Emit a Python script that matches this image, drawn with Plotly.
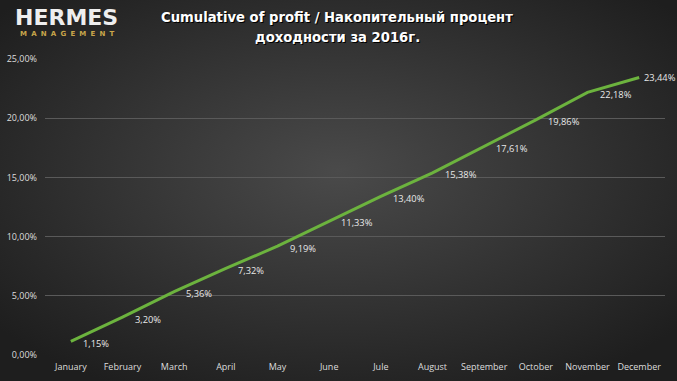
import base64
import plotly.graph_objects as go

months = ["January", "February", "March", "April", "May", "June",
          "Jule", "August", "September", "October", "November", "December"]
values = [1.15, 3.20, 5.36, 7.32, 9.19, 11.33, 13.40, 15.38, 17.61, 19.86, 22.18, 23.44]
labels = [f"{v:.2f}%".replace(".", ",") for v in values]
tick_vals = [0, 5, 10, 15, 20, 25]
tick_text = [f"{v:.2f}%".replace(".", ",") for v in tick_vals]

W, H = 677, 381
ML, MR, MT, MB = 45, 12, 59, 26
PW, PH = W - ML - MR, H - MT - MB

def px(x):
    return (x - ML) / PW

def py(y):
    return 1 - (y - MT) / PH

svg = """<svg xmlns='http://www.w3.org/2000/svg' width='677' height='381'>
<defs><radialGradient id='g' cx='50%' cy='45%' r='65%'>
<stop offset='0%' stop-color='#4a4a4a'/><stop offset='100%' stop-color='#1e1e1e'/>
</radialGradient></defs><rect width='677' height='381' fill='url(#g)'/></svg>"""
bg = "data:image/svg+xml;base64," + base64.b64encode(svg.encode()).decode()

fig = go.Figure()
fig.add_trace(go.Scatter(
    x=months, y=values, mode="lines",
    line=dict(color="#6cb33e", width=3),
    hoverinfo="skip",
))

label_font = dict(family="Open Sans, DejaVu Sans", size=9.3, color="#e8e8e8")
annotations = [
    dict(text=t, x=m, y=v, xref="x", yref="y", xanchor="left", yanchor="middle",
         xshift=(3 if i == len(months) - 1 else 10), yshift=(0 if i == len(months) - 1 else -2),
         showarrow=False, font=label_font)
    for i, (m, v, t) in enumerate(zip(months, values, labels))
]

title1 = "<b>Cumulative of profit / Накопительный процент</b>"
title2 = "<b>доходности за 2016г.</b>"
for t, yy in [(title1, 18), (title2, 38)]:
    for col, sh in [("#000000", 1), ("#ffffff", 0)]:
        annotations.append(dict(text=t, xref="paper", yref="paper", x=px(337), y=py(yy),
                                xanchor="center", yanchor="middle", xshift=sh, yshift=-sh,
                                showarrow=False,
                                font=dict(family="DejaVu Sans", size=13.2, color=col)))

annotations += [
    dict(text="<b>HERMES</b>", xref="paper", yref="paper", x=px(66), y=py(18),
         xanchor="center", yanchor="middle",
         showarrow=False, font=dict(family="DejaVu Sans", size=22, color="#eeeeee")),
    dict(text="<b>" + "\u2002\u200a".join("MANAGEMENT") + "</b>", xref="paper", yref="paper",
         x=px(67), y=py(34), xanchor="center", yanchor="middle",
         showarrow=False, font=dict(family="DejaVu Sans", size=7, color="#c9a64a")),
]

fig.update_layout(
    width=W, height=H,
    margin=dict(l=ML, r=MR, t=MT, b=MB),
    paper_bgcolor="#2a2a2a", plot_bgcolor="rgba(0,0,0,0)",
    showlegend=False,
    images=[dict(source=bg, xref="paper", yref="paper", x=px(0), y=py(0),
                 sizex=W / PW, sizey=H / PH, sizing="stretch", layer="below",
                 xanchor="left", yanchor="top")],
    xaxis=dict(showgrid=False, automargin=False, range=[-0.5, len(months) - 0.5],
               tickfont=dict(family="Open Sans, DejaVu Sans", size=9, color="#dddddd"),
               ticks="", showline=False, zeroline=False, ticklabelstandoff=5),
    yaxis=dict(range=[0, 25], tickvals=tick_vals, ticktext=tick_text, automargin=False,
               gridcolor="#5a5a5a", gridwidth=1, zeroline=False, showline=False,
               tickfont=dict(family="Open Sans, DejaVu Sans", size=9, color="#dddddd"),
               ticks="", ticklabelstandoff=7),
    annotations=annotations,
)

fig.write_html("out.html", config={"displayModeBar": False},
               post_script="document.body.style.margin='0';")
